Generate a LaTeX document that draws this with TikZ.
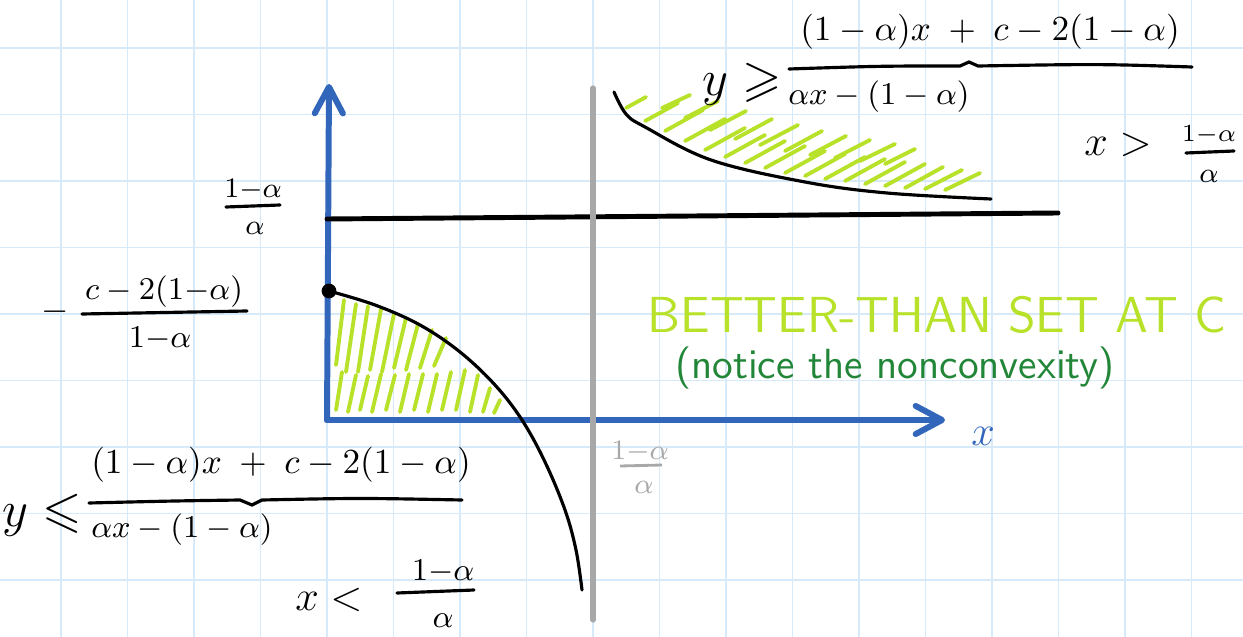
\documentclass[tikz,border=0pt]{standalone}
\usepackage{fontspec}
\usepackage{amsmath,amssymb}
\usepackage{xcolor}
\usetikzlibrary{arrows.meta}

\definecolor{gridblue}{RGB}{214,234,250}
\definecolor{axisblue}{RGB}{50,102,187}
\definecolor{limegreen}{RGB}{184,226,42}
\definecolor{notegreen}{RGB}{34,134,56}
\definecolor{asymgray}{RGB}{168,168,168}

\begin{document}
\begin{tikzpicture}[x=0.01cm,y=-0.01cm,
  axis/.style={line width=1.7pt,axisblue,line cap=round,
    -{Straight Barb[length=7.5pt,width=8pt,line width=1.7pt,round]}},
  curve/.style={line width=0.9pt,black,line cap=round},
  hatch/.style={line width=1.1pt,limegreen,line cap=round},
  bar/.style={line width=0.9pt,black,line cap=round},
  lbl/.style={inner sep=0pt}]
  \useasboundingbox (0,0) rectangle (1243,637);
  \fill[white] (0,0) rectangle (1243,637);

  % Grid paper
  \foreach \gx in {61,127.5,...,1243} \draw[gridblue,line width=0.4pt] (\gx,0) -- (\gx,637);
  \foreach \gy in {48,114.5,...,637} \draw[gridblue,line width=0.4pt] (0,\gy) -- (1243,\gy);

  % Hatching, upper branch
  \foreach \xa/\ya/\xb/\yb in {626/108/646/97, 645/121/678/103, 665/131/703/110,
      685/141/725/119, 705/150/745/128, 725/157/765/135, 745/163/785/141,
      765/168/805/146, 785/173/825/151, 805/176/845/154, 825/179/865/157,
      845/181/885/159, 865/184/905/162, 885/186/925/164, 905/188/943/167,
      925/189/962/170, 945/190/980/173,
      662/108/690/95, 685/118/718/101, 710/130/746/111, 735/139/772/119,
      760/145/798/125, 785/151/822/131, 810/155/846/136, 835/158/870/140,
      860/161/895/144, 885/164/915/149}
    \draw[hatch] (\xa,\ya) -- (\xb,\yb);

  % Hatching, lower branch
  \foreach \xa/\ya/\xb/\yb in {336/365/344/300, 346/372/356/304, 358/372/368/306,
      370/370/381/309, 382/372/394/314, 394/368/406/318, 406/370/418/324,
      420/368/432/330, 434/366/446/338, 336/410/342/372, 348/412/356/375,
      360/410/368/376, 372/412/381/374, 386/410/395/375, 400/412/409/374,
      414/410/423/374, 428/412/437/374, 442/410/451/372, 456/410/465/370,
      470/412/478/375, 483/412/490/388, 494/413/500/400}
    \draw[hatch] (\xa,\ya) -- (\xb,\yb);

  % Axes
  \coordinate (O) at (327,420);
  \coordinate (ytip) at (329,84);
  \coordinate (xtip) at (945,420);
  \draw[axis] (O) -- (ytip);
  \draw[axis] (O) -- (xtip);
  \node[lbl,text=axisblue,font=\large] (xlab) at (983,436) {$x$};

  % Horizontal asymptote
  \coordinate (hA) at (327,219);
  \coordinate (hB) at (1058,213);
  \draw[line width=1.4pt,line cap=round] (hA) -- (hB);

  % Vertical asymptote
  \coordinate (vA) at (593,88);
  \coordinate (vB) at (593,620);
  \draw[asymgray,line width=1.5pt,line cap=round] (vA) -- (vB);

  % The two branches
  \draw[curve] plot[smooth,tension=0.6] coordinates {(614,92) (626,114) (645,127)
    (711,160) (805,182) (887,193) (991,199)};
  \draw[curve] plot[smooth,tension=0.6] coordinates {(329,291) (375,305) (420,325)
    (460,352) (495,385) (522,420) (545,462) (565,510) (576,550) (582,590)};
  \fill (329,291) circle[radius=2.1pt];

  % Label of the horizontal asymptote
  \node[lbl,font=\footnotesize] (hnum) at (253,190) {$1{-}\alpha$};
  \node[lbl,font=\footnotesize] (hden) at (255,228) {$\alpha$};
  \draw[bar] (226,207) -- (280,205);

  % Intercept on the y axis
  \node[lbl] (minus) at (55,312) {$-$};
  \node[lbl,font=\small] (inum) at (164,292) {$c-2(1{-}\alpha)$};
  \node[lbl,font=\small] (iden) at (160,339) {$1{-}\alpha$};
  \draw[bar] (82,314) -- (247,311);

  % Label of the vertical asymptote
  \node[lbl,text=asymgray,font=\footnotesize] (vnum) at (640,452) {$1{-}\alpha$};
  \node[lbl,text=asymgray,font=\footnotesize] (vden) at (644,487) {$\alpha$};
  \draw[asymgray,line width=0.8pt] (620,466) -- (662,465);

  % Upper branch inequality
  \node[lbl,font=\Large] (ygeq) at (742,84) {$y\geqslant$};
  \node[lbl] (unum) at (990,32) {$(1-\alpha)x\;+\;c-2(1-\alpha)$};
  \node[lbl,font=\small] (uden) at (879,97) {$\alpha x-(1-\alpha)$};
  \draw[bar] (789,69) .. controls (880,66) .. (960,66) -- (969,62) -- (978,66)
    .. controls (1100,64) .. (1192,67);
  \node[lbl,font=\large] (xgt) at (1118,145) {$x>$};
  \node[lbl,font=\scriptsize] (gnum) at (1209,135) {$1{-}\alpha$};
  \node[lbl,font=\footnotesize] (gden) at (1209,176) {$\alpha$};
  \draw[bar] (1186,153) -- (1234,151);

  % Lower branch inequality
  \node[lbl,font=\Large] (yleq) at (42,515) {$y\leqslant$};
  \node[lbl] (lnum) at (281,465) {$(1-\alpha)x\;+\;c-2(1-\alpha)$};
  \node[lbl,font=\small] (lden) at (182,530) {$\alpha x-(1-\alpha)$};
  \draw[bar] (89,503) .. controls (170,501) .. (240,500) -- (252,505) -- (262,500)
    .. controls (360,498) .. (462,500);
  \node[lbl,font=\large] (xlt) at (329,600) {$x<$};
  \node[lbl,font=\small] (lnumb) at (443,572) {$1{-}\alpha$};
  \node[lbl,font=\small] (ldenb) at (443,621) {$\alpha$};
  \draw[bar] (397,593) -- (474,590);

  % Notes
  \node[lbl,text=limegreen,font=\sffamily\Large\addfontfeature{LetterSpace=11}]
    (title) at (937,315) {BETTER-THAN SET AT C};
  \node[lbl,text=notegreen,font=\sffamily\large\addfontfeature{LetterSpace=8}]
    (note) at (895,368) {(notice the nonconvexity)};
\end{tikzpicture}
\end{document}
